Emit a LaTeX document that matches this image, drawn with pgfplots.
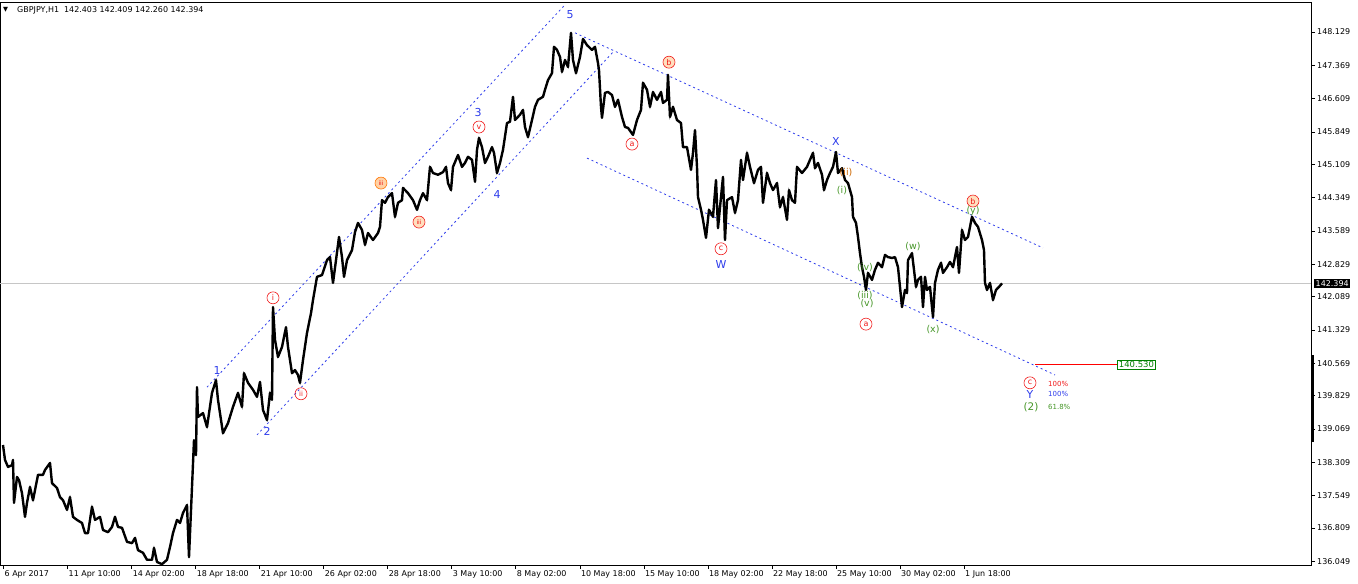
\documentclass[border=0pt]{standalone}
\usepackage{fontspec}
\setmainfont{DejaVu Sans}
\usepackage{pgfplots}
\pgfplotsset{compat=1.18}
\definecolor{ewblue}{RGB}{45,60,235}
\definecolor{ewred}{RGB}{240,25,25}
\definecolor{ewgreen}{RGB}{70,150,40}
\definecolor{ewbox}{RGB}{0,128,0}

% GBPJPY H1 price path, x in bar pixels, y in price
\pgfplotstableread{
x p
3 138.70
5 138.36
8 138.20
12 138.24
13 138.36
14 137.38
17 137.97
19 137.90
22 137.60
25 137.06
27 137.38
30 137.74
33 137.44
37 137.90
38 138.02
43 138.02
45 138.13
50 138.29
52 137.83
57 137.72
60 137.51
63 137.44
67 137.22
70 137.51
73 137.06
77 136.99
82 136.92
85 136.69
88 136.69
92 137.29
95 136.99
100 137.06
103 136.76
108 136.71
112 136.83
115 137.06
118 136.83
122 136.81
127 136.49
132 136.46
135 136.58
138 136.30
143 136.24
147 136.08
152 136.08
154 136.35
157 136.03
162 135.98
167 136.08
170 136.37
173 136.69
177 136.99
180 136.92
183 137.15
187 137.33
189 136.14
192 137.74
194 138.81
196 138.47
197 140.02
198 139.34
203 139.43
207 139.11
212 139.89
216 140.18
218 139.73
223 138.97
228 139.20
233 139.57
238 139.89
242 139.57
244 140.34
248 140.12
253 139.96
257 139.80
260 140.14
263 139.50
267 139.27
270 139.89
272 139.73
273 141.85
275 141.10
278 140.71
282 140.94
286 141.39
288 140.94
292 140.34
295 140.41
298 140.30
300 140.12
303 140.64
307 141.26
311 141.71
313 142.01
317 142.54
322 142.58
327 142.92
330 142.99
333 142.40
336 142.92
339 143.45
342 142.99
344 142.54
347 142.92
352 143.15
355 143.56
358 143.77
362 143.61
365 143.27
368 143.54
373 143.38
378 143.54
380 143.68
382 144.29
385 144.23
388 144.36
392 144.45
395 143.91
398 144.23
402 144.29
403 144.57
408 144.45
413 144.29
417 144.07
420 144.29
423 144.45
427 144.29
430 145.05
433 144.91
438 144.87
443 144.93
446 145.05
448 144.68
451 144.52
453 145.05
458 145.32
462 145.05
465 145.14
468 145.28
472 145.21
475 144.71
477 145.44
479 145.71
482 145.50
485 145.14
488 145.28
492 145.50
494 145.37
497 144.91
500 145.14
503 145.44
507 146.05
510 146.08
513 146.65
515 146.12
520 146.24
523 146.35
525 145.96
528 145.73
532 146.12
535 146.42
538 146.58
543 146.65
545 146.81
548 147.03
552 147.19
554 147.79
557 147.72
560 147.56
562 147.22
565 147.49
568 147.33
571 148.11
573 147.49
576 147.19
580 147.56
583 147.97
587 147.83
592 147.72
595 147.79
598 147.42
599 147.26
601 146.42
602 146.17
605 146.74
608 146.76
612 146.69
615 146.42
618 146.58
622 146.19
625 145.96
628 145.94
633 145.78
637 146.12
641 146.35
643 146.97
647 146.81
650 146.42
653 146.76
657 146.58
661 146.76
663 146.51
667 146.58
668 147.15
670 146.19
673 146.42
677 146.12
681 146.05
683 145.50
687 145.50
691 144.98
693 145.37
695 145.89
697 145.05
698 144.36
701 144.07
703 143.84
706 143.43
709 144.07
713 143.91
716 144.75
718 143.65
721 144.36
723 144.82
725 143.38
727 144.29
732 144.36
735 144.00
738 144.29
741 145.21
743 144.75
747 145.37
750 145.05
754 144.68
758 144.98
761 145.05
763 144.23
767 144.91
770 144.68
773 144.52
777 144.68
780 144.13
783 144.36
787 143.84
789 144.52
792 144.29
795 144.23
797 145.05
802 144.91
807 145.05
810 145.21
813 145.37
815 145.02
818 145.14
822 144.87
824 144.52
827 144.75
830 144.91
833 145.05
836 145.39
838 144.91
842 145.02
845 144.75
848 144.68
852 144.36
853 143.91
856 143.77
858 143.45
860 143.08
862 142.76
864 142.54
866 142.24
868 142.63
872 142.47
875 142.70
878 142.86
882 142.76
885 143.04
888 142.99
892 142.97
895 142.99
898 142.76
901 142.08
902 141.85
905 142.24
907 142.17
908 142.92
912 143.08
914 142.70
916 142.31
918 142.47
921 142.54
923 141.85
925 142.54
927 142.24
930 142.31
933 141.62
935 142.40
938 142.70
941 142.86
943 142.63
947 142.76
950 142.88
953 142.76
957 143.22
959 142.63
962 143.61
965 143.38
968 143.45
972 143.91
975 143.77
978 143.68
982 143.38
984 143.15
985 142.40
987 142.24
990 142.40
993 142.01
996 142.24
999 142.31
1002 142.39
}\price

\begin{document}
\begin{tikzpicture}[
  circ/.style={circle, draw=ewred, text=ewred, line width=0.6pt, inner sep=0pt,
    minimum size=12bp, font=\fontsize{8}{8}\selectfont},
  num/.style={text=ewblue, font=\fontsize{11}{11}\selectfont, inner sep=0pt},
  grn/.style={text=ewgreen, font=\fontsize{9.5}{10}\selectfont, inner sep=0pt},
  chan/.style={ewblue, line width=0.8bp, dash pattern=on 2bp off 3bp},
]
\useasboundingbox (0,0) rectangle (1358bp,584bp);
\begin{axis}[
  at={(0,19bp)}, anchor=south west,
  scale only axis, width=1311bp, height=563bp,
  xmin=0, xmax=1311, ymin=135.961, ymax=148.814,
  clip=false,
  axis line style={line width=0.8bp},
  tick align=outside, major tick length=4bp,
  tick style={black, line width=0.6bp},
  xtick pos=bottom, ytick pos=right, yticklabel pos=right,
  xtick={3.5,67.5,131.6,195.6,259.6,323.7,387.7,451.7,515.7,579.8,643.8,707.8,771.9,835.9,899.9,964},
  xticklabels={6 Apr 2017,11 Apr 10:00,14 Apr 02:00,18 Apr 18:00,21 Apr 10:00,26 Apr 02:00,28 Apr 18:00,3 May 10:00,8 May 02:00,10 May 18:00,15 May 10:00,18 May 02:00,22 May 18:00,25 May 10:00,30 May 02:00,1 Jun 18:00},
  ytick={148.129,147.369,146.609,145.849,145.109,144.349,143.589,142.829,142.089,141.329,140.569,139.829,139.069,138.309,137.549,136.809,136.049},
  yticklabels={148.129,147.369,146.609,145.849,145.109,144.349,143.589,142.829,142.089,141.329,140.569,139.829,139.069,138.309,137.549,136.809,136.049},
  xticklabel style={anchor=north west, inner xsep=1bp, inner ysep=1.5bp, font=\fontsize{8}{9}\selectfont},
  yticklabel style={anchor=west, inner xsep=2bp, font=\fontsize{8}{9}\selectfont},
]
% current price line
\addplot[gray!45, line width=0.7bp] coordinates {(0,142.394) (1311,142.394)};
% channels
\addplot[chan] coordinates {(207,140.02) (565,148.75)};
\addplot[chan] coordinates {(257,138.93) (613,147.67)};
\addplot[chan] coordinates {(575,148.11) (1043,143.20)};
\addplot[chan] coordinates {(587,145.25) (1055,140.30)};
% target line
\addplot[red, line width=0.9bp] coordinates {(1035,140.53) (1117,140.53)};
% right-axis bar
\addplot[black, line width=3bp] coordinates {(1312.5,140.755) (1312.5,138.77)};
% price
\addplot[black, line width=2.4bp, line join=round] table[x=x, y=p] {\price};
\addplot[black, line width=0.9bp, line join=miter, miter limit=6] table[x=x, y=p] {\price};

% title
\node[anchor=west, font=\fontsize{6.5}{6.5}\selectfont, inner sep=0pt] at (axis cs:3,148.63) {▼};
\node[anchor=west, font=\fontsize{8}{9}\selectfont, inner sep=0pt] at (axis cs:17,148.63) {GBPJPY,H1\ \ 142.403 142.409 142.260 142.394};

% wave labels
\node[num] at (axis cs:570,148.52) {5};
\node[num] at (axis cs:478,146.28) {3};
\node[circ] at (axis cs:479,145.96) {v};
\node[circ, fill=orange!35, draw=orange!90!red] at (axis cs:381,144.68) {\fontsize{6}{6}\selectfont iii};
\node[circ, fill=orange!25] at (axis cs:419,143.79) {\fontsize{6}{6}\selectfont iii};
\node[num] at (axis cs:497,144.43) {4};
\node[num] at (axis cs:217,140.41) {1};
\node[num] at (axis cs:267,139.00) {2};
\node[circ] at (axis cs:273,142.06) {i};
\node[circ] at (axis cs:301,139.87) {\fontsize{7}{7}\selectfont ii};
\node[circ, fill=orange!25] at (axis cs:669,147.44) {b};
\node[circ] at (axis cs:632,145.57) {a};
\node[circ] at (axis cs:721,143.18) {c};
\node[num] at (axis cs:721,142.81) {W};
\node[num] at (axis cs:836,145.64) {X};
\node[grn] at (axis cs:842,144.50) {(i)};
\node[grn, text=orange!80!black] at (axis cs:846,144.93) {(ii)};
\node[grn] at (axis cs:865,142.76) {(iv)};
\node[grn] at (axis cs:865,142.12) {(iii)};
\node[grn] at (axis cs:867,141.94) {(v)};
\node[circ] at (axis cs:866,141.46) {a};
\node[grn] at (axis cs:913,143.24) {(w)};
\node[grn] at (axis cs:933,141.33) {(x)};
\node[circ, fill=orange!25] at (axis cs:973,144.27) {b};
\node[grn] at (axis cs:973,144.04) {(y)};
\node[circ] at (axis cs:1030,140.12) {c};
\node[num] at (axis cs:1030,139.86) {Y};
\node[grn, font=\fontsize{10.5}{11}\selectfont] at (axis cs:1031,139.57) {(2)};
\node[anchor=west, text=ewred, font=\fontsize{7}{7}\selectfont, inner sep=0pt] at (axis cs:1048,140.09) {100\%};
\node[anchor=west, text=ewblue, font=\fontsize{7}{7}\selectfont, inner sep=0pt] at (axis cs:1048,139.86) {100\%};
\node[anchor=west, text=ewgreen, font=\fontsize{7}{7}\selectfont, inner sep=0pt] at (axis cs:1048,139.57) {61.8\%};

% target box
\node[anchor=west, draw=ewbox, text=ewbox, fill=white, line width=0.8bp, inner xsep=1.5bp, inner ysep=1bp,
  font=\fontsize{8.5}{9}\selectfont] at (axis cs:1117,140.53) {140.530};
% current price box
\node[anchor=west, fill=black, text=white, inner xsep=1.5bp, inner ysep=1.5bp,
  font=\fontsize{8}{9}\selectfont] at (axis cs:1314,142.394) {142.394};
\end{axis}
\end{tikzpicture}
\end{document}
